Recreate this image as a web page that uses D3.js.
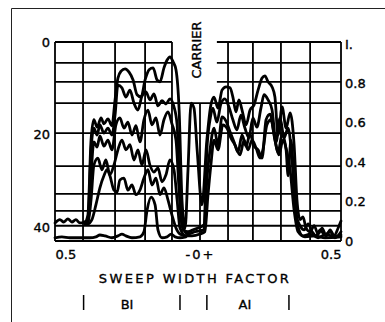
<!DOCTYPE html>
<html>
<head>
<meta charset="utf-8">
<script src="https://cdn.jsdelivr.net/npm/d3@7"></script>
<style>
  body { margin: 0; background: #fff; }
  svg { display: block; }
  text { stroke: #000; stroke-width: 0.35px; }
</style>
</head>
<body>
<div id="outlet"></div>
<script>
// grid + axis values (sweep width factor, dB down, relative amplitude)
const gridSweep = [-0.5, -0.402, -0.29, -0.185, -0.091, 0.007, 0.105, 0.192, 0.29, 0.392, 0.5];
const gridDb = [0, 4.5, 8.6, 13.2, 19.7, 26.8, 32.8, 36.5, 39.7, 43];
const dbTicks = [0, 20, 40];
const ampTicks = [0, 0.2, 0.4, 0.6, 0.8, 1];
const ampLabels = ["0", "0.2", "0.4", "0.6", "0.8", "I."];
const sweepTicks = [-0.5, 0.007, 0.5];
const sweepLabels = ["0.5", "-0+", "0.5"];
const bandMarks = [-0.4, -0.063, 0.031, 0.318];
const bandNames = ["BI", "AI"];
const bandCenters = [-0.248, 0.164];

// traces: [sweep width factor, dB]
const traceA = [[-.500,39.1],[-.483,38.4],[-.469,38.9],[-.455,38.2],[-.441,38.9],[-.427,38.4],[-.413,39.1],[-.395,38.9],
  [-.385,37.4],[-.374,21.2],[-.364,16.8],[-.353,18.4],[-.339,16.4],[-.329,17.7],[-.315,16.6],[-.301,18.1],[-.290,12.5],
  [-.280,7.8],[-.269,6.3],[-.255,5.8],[-.241,6.5],[-.227,8.2],[-.213,11.4],[-.199,11.9],[-.185,8.2],[-.171,6.0],[-.157,5.6],
  [-.143,8.2],[-.133,8.6],[-.119,5.6],[-.108,3.9],[-.098,3.2],[-.087,4.3],[-.077,6.0],[-.066,14.7],[-.056,34.1],[-.045,40.2],
  [-.035,27.6],[-.024,13.2],[-.014,14.3],[-.003,23.3],[.014,35.2],[.031,21.2],[.045,13.6],[.056,11.9],[.070,14.3],[.084,10.4],
  [.098,9.7],[.112,9.9],[.122,11.9],[.133,15.1],[.143,12.5],[.154,14.7],[.168,17.9],[.182,14.7],[.196,13.6],[.210,10.4],
  [.224,7.8],[.234,7.3],[.245,8.6],[.259,9.7],[.269,11.9],[.280,20.1],[.294,14.0],[.308,18.6],[.322,15.3],[.336,22.2],
  [.346,34.1],[.357,38.4],[.367,37.8],[.378,40.2],[.392,41.0],[.406,39.7],[.420,41.5],[.434,40.2],[.448,41.9],[.462,40.6],
  [.476,41.9],[.490,40.2],[.500,38.7]];
const traceB = [[-.395,38.9],[-.385,38.4],[-.374,23.3],[-.364,18.6],[-.353,20.1],[-.343,17.9],[-.329,19.7],[-.315,18.6],
  [-.301,20.1],[-.290,15.8],[-.280,9.3],[-.266,9.9],[-.252,11.9],[-.238,10.4],[-.224,13.2],[-.210,14.7],[-.196,11.7],
  [-.182,10.8],[-.168,12.5],[-.154,11.2],[-.140,13.8],[-.126,12.7],[-.112,13.4],[-.098,12.3],[-.084,14.0],[-.073,17.9],
  [-.063,34.1],[-.052,40.6],[-.035,41.0],[-.017,40.6],[.000,40.2],[.021,39.5],[.031,23.3],[.042,16.8],[.052,14.3],[.066,17.3],
  [.080,13.4],[.094,12.3],[.108,14.0],[.122,16.8],[.136,19.0],[.150,15.8],[.164,18.6],[.178,20.7],[.192,16.4],[.206,18.4],
  [.220,14.3],[.231,11.4],[.245,12.5],[.259,14.7],[.273,21.6],[.287,16.4],[.301,20.7],[.315,18.6],[.329,25.5],[.343,37.4],
  [.357,39.7],[.371,40.6],[.385,39.3],[.399,41.0],[.413,41.9],[.427,40.6],[.444,41.7],[.462,41.0],[.479,42.3],[.500,41.0]];
const traceC = [[-.395,38.9],[-.385,38.9],[-.374,28.7],[-.364,21.6],[-.353,22.7],[-.343,20.3],[-.329,22.5],[-.315,21.2],
  [-.301,23.3],[-.287,17.9],[-.273,16.4],[-.259,18.6],[-.245,17.3],[-.231,20.1],[-.217,18.1],[-.203,21.6],[-.189,16.8],
  [-.175,14.7],[-.161,17.9],[-.147,16.4],[-.133,20.1],[-.119,16.8],[-.105,15.1],[-.091,17.7],[-.077,21.2],[-.066,32.0],
  [-.056,39.5],[-.035,41.5],[-.010,41.0],[.021,40.6],[.031,29.8],[.042,23.3],[.056,18.6],[.070,22.2],[.084,16.2],[.098,17.1],
  [.112,19.4],[.126,21.6],[.140,23.8],[.154,20.1],[.168,22.5],[.182,19.9],[.196,22.5],[.210,23.3],[.224,25.1],[.238,16.8],
  [.252,15.6],[.266,19.9],[.280,23.8],[.294,19.9],[.308,23.3],[.315,28.9],[.325,21.2],[.339,34.1],[.353,40.6],[.367,41.9],
  [.392,41.5],[.420,42.3],[.448,41.5],[.476,42.1],[.500,41.7]];
const traceD = [[-.395,39.3],[-.385,39.1],[-.374,34.1],[-.364,26.6],[-.350,25.1],[-.336,27.6],[-.322,25.5],[-.308,28.7],
  [-.294,26.6],[-.280,23.3],[-.266,21.2],[-.252,23.3],[-.238,22.2],[-.224,25.5],[-.210,23.3],[-.196,26.6],[-.182,23.3],
  [-.168,26.6],[-.154,28.1],[-.140,27.2],[-.126,30.2],[-.112,28.7],[-.098,25.5],[-.084,27.6],[-.073,34.1],[-.063,40.2],
  [-.042,41.9],[-.021,41.9],[.007,41.5],[.024,41.0],[.035,33.0],[.045,26.6],[.056,21.2],[.070,23.3],[.087,17.9],[.101,18.6],
  [.115,20.7],[.129,22.2],[.147,24.4],[.161,21.2],[.175,23.3],[.189,21.2],[.203,22.9],[.217,25.1],[.227,23.3],[.241,17.9],
  [.255,16.8],[.269,21.2],[.283,24.4],[.297,21.2],[.311,23.8],[.322,27.6],[.336,36.3],[.350,41.0],[.374,42.1],[.409,41.9],
  [.444,42.3],[.500,42.1]];
const traceE = [[-.395,38.9],[-.385,39.3],[-.371,38.4],[-.357,35.2],[-.343,31.5],[-.329,28.9],[-.318,27.6],[-.308,28.9],
  [-.294,32.0],[-.283,32.4],[-.273,29.8],[-.259,29.4],[-.245,32.0],[-.231,30.9],[-.217,33.0],[-.203,32.0],[-.189,29.4],
  [-.175,27.6],[-.161,30.9],[-.147,29.4],[-.133,33.0],[-.119,31.5],[-.105,34.1],[-.091,37.4],[-.077,40.2],[-.063,41.5],
  [-.042,41.9]];
const traceF = [[-.500,42.3],[-.476,42.1],[-.448,42.3],[-.413,42.3],[-.378,42.3],[-.357,42.1],[-.343,41.7],[-.325,41.9],
  [-.301,42.3],[-.280,41.9],[-.266,41.5],[-.252,41.9],[-.231,42.3],[-.203,42.1],[-.189,41.0],[-.178,36.3],[-.164,33.5],
  [-.150,35.2],[-.140,40.6],[-.126,42.3],[-.108,42.1],[-.094,41.5],[-.080,42.1],[-.063,42.3],[-.042,42.1]];

const traces = [traceA, traceB, traceC, traceD, traceE, traceF];

const width = 385, height = 322;
const marginLeft = 55, marginRight = 44, marginTop = 42, marginBottom = 81;
const font = "'DejaVu Sans', sans-serif";

const x = d3.scaleLinear().domain([-0.5, 0.5]).range([marginLeft, width - marginRight]);
const yDb = d3.scaleLinear().domain([0, 43]).range([marginTop, height - marginBottom]);
const yAmp = d3.scaleLinear().domain([0, 1]).range([height - marginBottom, 44]);

const svg = d3.select("#outlet").append("svg")
  .attr("width", width).attr("height", height)
  .attr("viewBox", [0, 0, width, height])
  .style("font-family", font);

// page frame (top + left only)
svg.append("path")
  .attr("d", "M11.5,322V8.5H385")
  .attr("fill", "none").attr("stroke", "#222").attr("stroke-width", 1);

// grid; the top lines break around the CARRIER label
const grid = svg.append("g").attr("stroke", "#000").attr("stroke-width", 1.8).attr("fill", "none");
gridDb.forEach(d => {
  if (d < 9) {
    grid.append("line").attr("x1", x(-0.5)).attr("x2", x(-0.091)).attr("y1", yDb(d)).attr("y2", yDb(d));
    grid.append("line").attr("x1", x(0.066)).attr("x2", x(0.5)).attr("y1", yDb(d)).attr("y2", yDb(d));
  } else {
    grid.append("line").attr("x1", x(-0.5)).attr("x2", x(0.5)).attr("y1", yDb(d)).attr("y2", yDb(d));
  }
});
gridSweep.forEach(s => {
  grid.append("line").attr("x1", x(s)).attr("x2", x(s))
    .attr("y1", Math.abs(s - 0.007) < 1e-6 ? yDb(13.2) : yDb(0)).attr("y2", yDb(43));
});

// traces
const line = d3.line().x(d => x(d[0])).y(d => yDb(d[1])).curve(d3.curveMonotoneX);
svg.append("g")
  .attr("fill", "none").attr("stroke", "#000").attr("stroke-width", 2.8)
  .attr("stroke-linejoin", "round").attr("stroke-linecap", "round")
  .selectAll("path").data(traces).join("path")
  .attr("d", d => line(d));

// axes
const styleAxis = g => {
  g.select(".domain").remove();
  g.attr("font-family", font).attr("font-size", 13);
  g.selectAll("text").attr("fill", "#000");
};
svg.append("g").attr("transform", `translate(${marginLeft},0)`)
  .call(d3.axisLeft(yDb).tickValues(dbTicks).tickSize(0).tickPadding(5))
  .call(styleAxis);
svg.append("g").attr("transform", `translate(${width - marginRight},0)`)
  .call(d3.axisRight(yAmp).tickValues(ampTicks).tickSize(0).tickPadding(4)
    .tickFormat((d, i) => ampLabels[i]))
  .call(styleAxis);
svg.append("g").attr("transform", `translate(0,${height - marginBottom})`)
  .call(d3.axisBottom(x).tickValues(sweepTicks).tickSize(0).tickPadding(9)
    .tickFormat((d, i) => sweepLabels[i]))
  .call(styleAxis)
  .call(g => g.selectAll("text")
    .attr("text-anchor", (d, i) => i === 0 ? "start" : i === 2 ? "end" : "middle")
    .attr("letter-spacing", (d, i) => i === 1 ? 2 : null));

svg.append("text")
  .attr("x", 195).attr("y", 283)
  .attr("text-anchor", "middle").attr("font-size", 13).attr("letter-spacing", 2.4)
  .text("SWEEP WIDTH FACTOR");

svg.append("text")
  .attr("transform", `translate(${x(0.01)},50) rotate(-90)`)
  .attr("text-anchor", "middle").attr("font-size", 13)
  .text("CARRIER");

// sideband markers
svg.append("g").attr("stroke", "#000").attr("stroke-width", 1.5)
  .selectAll("line").data(bandMarks).join("line")
  .attr("x1", d => x(d)).attr("x2", d => x(d)).attr("y1", 295).attr("y2", 310);
svg.append("g").attr("font-size", 13).attr("text-anchor", "middle")
  .selectAll("text").data(bandNames).join("text")
  .attr("x", (d, i) => x(bandCenters[i])).attr("y", 309)
  .text(d => d);
</script>
</body>
</html>
